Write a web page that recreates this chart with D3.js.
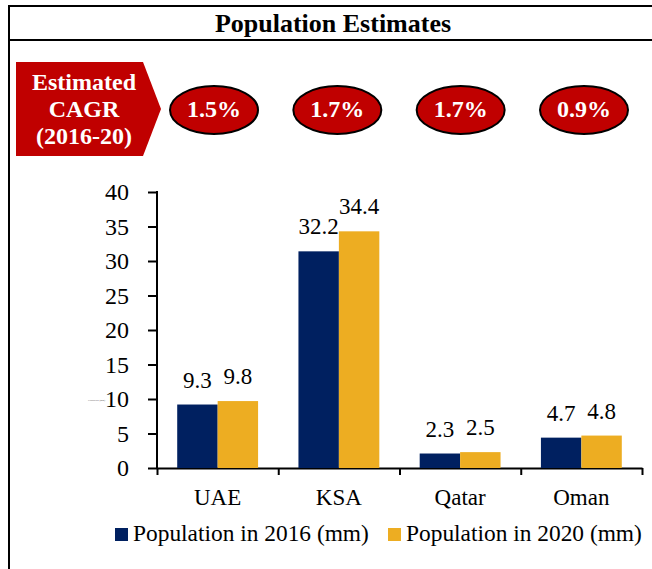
<!DOCTYPE html>
<html>
<head>
<meta charset="utf-8">
<script src="https://cdn.jsdelivr.net/npm/d3@7"></script>
<style>
  body { margin: 0; background: #fff; }
  svg { display: block; font-family: "Liberation Serif", "DejaVu Serif", serif; }
  .axis path, .axis line { stroke: #000; stroke-width: 2; }
  .axis text { font-size: 24px; fill: #000; font-family: "Liberation Serif", "DejaVu Serif", serif; }
</style>
</head>
<body>
<script>
'use strict'
const categories = ["UAE", "KSA", "Qatar", "Oman"];
const pop2016 = [9.2, 31.4, 2.1, 4.4];
const pop2020 = [9.7, 34.3, 2.3, 4.7];
const labels2016 = ["9.3", "32.2", "2.3", "4.7"];
const labels2020 = ["9.8", "34.4", "2.5", "4.8"];
const cagr = ["1.5%", "1.7%", "1.7%", "0.9%"];
const seriesNames = ["Population in 2016 (mm)", "Population in 2020 (mm)"];
const yTicks = [0, 5, 10, 15, 20, 25, 30, 35, 40];

const w = 652;
const h = 569;
const navy = "#002060";
const gold = "#EDAD22";
const red = "#C00000";
const colors = [navy, gold];

const svg = d3.select("body").append("svg")
	.attr("width", w)
	.attr("height", h);

// frame and title
svg.append("line").attr("x1", 8).attr("x2", w).attr("y1", 6).attr("y2", 6)
	.attr("stroke", "#000").attr("stroke-width", 2);
svg.append("line").attr("x1", 8).attr("x2", w).attr("y1", 40).attr("y2", 40)
	.attr("stroke", "#000").attr("stroke-width", 2);
svg.append("line").attr("x1", 9).attr("x2", 9).attr("y1", 5).attr("y2", h)
	.attr("stroke", "#000").attr("stroke-width", 2);

svg.append("text")
	.attr("x", 333)
	.attr("y", 32)
	.attr("text-anchor", "middle")
	.attr("font-weight", "bold")
	.attr("font-size", 26)
	.text("Population Estimates");

// CAGR banner
svg.append("polygon")
	.attr("points", "16,62 143,62 161,109 143,156 16,156")
	.attr("fill", red);

svg.append("text")
	.attr("x", 84)
	.attr("text-anchor", "middle")
	.attr("font-weight", "bold")
	.attr("font-size", 24)
	.attr("fill", "#fff")
	.selectAll("tspan")
	.data(["Estimated", "CAGR", "(2016-20)"])
	.enter()
	.append("tspan")
	.attr("x", 84)
	.attr("y", (d, i) => 90 + i * 27)
	.text(d => d);

const ellipseScale = d3.scalePoint()
	.domain(categories)
	.range([214, 584]);

const ell = svg.selectAll(".cagr")
	.data(categories)
	.enter()
	.append("g")
	.attr("class", "cagr")
	.attr("transform", d => "translate(" + ellipseScale(d) + ",110)");

ell.append("ellipse")
	.attr("rx", 44)
	.attr("ry", 24)
	.attr("fill", red)
	.attr("stroke", "#000")
	.attr("stroke-width", 2);

ell.append("text")
	.attr("y", 7)
	.attr("text-anchor", "middle")
	.attr("font-weight", "bold")
	.attr("font-size", 24)
	.attr("fill", "#fff")
	.text((d, i) => cagr[i]);

// chart
const x0 = 157, x1 = 642, yBase = 468, yTop = 192;

const xScale = d3.scaleBand()
	.domain(categories)
	.range([x0, x1])
	.paddingInner(0.333)
	.paddingOuter(0.1667);

const xInner = d3.scaleBand()
	.domain([0, 1])
	.range([0, xScale.bandwidth()]);

const yScale = d3.scaleLinear()
	.domain([0, 40])
	.range([yBase, yTop]);

const yAxis = d3.axisLeft(yScale)
	.tickValues(yTicks)
	.tickSize(9)
	.tickSizeOuter(0)
	.tickPadding(19);

svg.append("g")
	.attr("class", "axis")
	.attr("transform", "translate(" + x0 + ",0)")
	.call(yAxis)
	.call(g => g.select(".domain").attr("d", "M0," + yBase + "V" + (yTop - 1)));

// boundary ticks of the category axis
const boundScale = d3.scaleLinear()
	.domain([0, categories.length])
	.range([x0, x1]);

svg.append("g")
	.attr("class", "axis")
	.attr("transform", "translate(0," + yBase + ")")
	.call(d3.axisBottom(boundScale)
		.tickValues(d3.range(categories.length + 1))
		.tickSize(7)
		.tickSizeOuter(0)
		.tickFormat(""));

svg.selectAll(".cat")
	.data(categories)
	.enter()
	.append("text")
	.attr("class", "cat")
	.attr("x", d => xScale(d) + xScale.bandwidth() / 2)
	.attr("y", 505)
	.attr("text-anchor", "middle")
	.attr("font-size", 23)
	.text(d => d);

// tiny stray axis title next to the 10 tick
svg.append("text")
	.attr("x", 88)
	.attr("y", 401)
	.attr("font-size", 2.5)
	.attr("fill", "#555")
	.text("Population (mm)");

const series = [pop2016, pop2020];
const labels = [labels2016, labels2020];

series.forEach((vals, s) => {
	svg.selectAll(".bar" + s)
		.data(categories)
		.enter()
		.append("rect")
		.attr("class", "bar" + s)
		.attr("fill", colors[s])
		.attr("x", d => xScale(d) + xInner(s))
		.attr("width", xInner.bandwidth())
		.attr("y", (d, i) => yScale(vals[i]))
		.attr("height", (d, i) => yBase - yScale(vals[i]));

	svg.selectAll(".lbl" + s)
		.data(categories)
		.enter()
		.append("text")
		.attr("class", "lbl" + s)
		.attr("x", d => xScale(d) + xInner(s) + xInner.bandwidth() / 2)
		.attr("y", (d, i) => yScale(vals[i]) - 17)
		.attr("text-anchor", "middle")
		.attr("font-size", 23)
		.text((d, i) => labels[s][i]);
});

// legend
const legendX = [115, 388];
const legend = svg.selectAll(".legend")
	.data(seriesNames)
	.enter()
	.append("g")
	.attr("class", "legend")
	.attr("transform", (d, i) => "translate(" + legendX[i] + ",528)");

legend.append("rect")
	.attr("width", 13)
	.attr("height", 13)
	.attr("fill", (d, i) => colors[i]);

legend.append("text")
	.attr("x", 18)
	.attr("y", 13)
	.attr("font-size", 23.4)
	.text(d => d);
</script>
</body>
</html>
